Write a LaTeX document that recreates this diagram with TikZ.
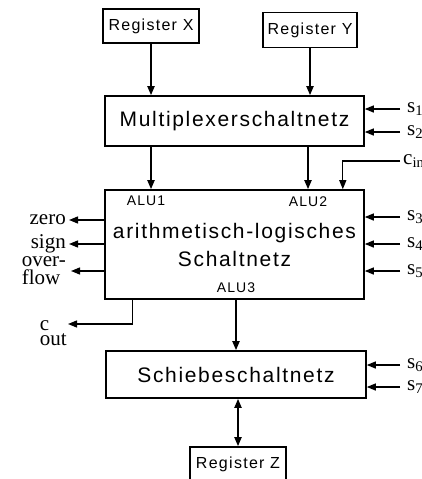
\documentclass[tikz,border=0pt]{standalone}
\usepackage{fontspec}
\usetikzlibrary{arrows.meta}
\setmainfont{Liberation Serif}
\newfontfamily\unitfont[LetterSpace=8]{Liberation Sans}
\newcommand{\unitsize}[2]{\unitfont\fontsize{#1}{#2}\selectfont}

\begin{document}
\begin{tikzpicture}[
  x=1pt, y=-1pt,
  >={Triangle[length=9pt, width=7pt]},
  unit/.style={
    draw=black, line width=1.6pt,
    inner sep=0pt, align=center,
    font=\unitsize{21}{28}
  },
  reg/.style={unit, font=\unitsize{16}{18}},
  port/.style={inner sep=0pt, font=\unitsize{14}{16}},
  bus/.style={->, line width=1.8pt},
  ctl/.style={->, line width=1.3pt},
  sig/.style={inner sep=0pt, font=\fontsize{21}{18}\selectfont},
]
  \useasboundingbox (0,0) rectangle (421,479);
  \clip (0,0) rectangle (421,479);

  \node[reg, minimum width=96pt, minimum height=34pt] (regX) at (151, 26) {Register X};
  \node[reg, minimum width=94pt, minimum height=35pt] (regY) at (310, 30) {Register Y};
  \node[unit, minimum width=259pt, minimum height=50pt] (mux) at (234.5, 121) {Multiplexerschaltnetz};
  \node[unit, minimum width=259pt, minimum height=109pt] (alu) at (234.5, 244.5)
    {arithmetisch-logisches\\Schaltnetz};
  \node[unit, minimum width=260pt, minimum height=47pt] (shift) at (236, 374.5) {Schiebeschaltnetz};
  \node[reg, minimum width=96pt, minimum height=34pt] (regZ) at (238, 464) {Register Z};

  \node[port] (alu1) at (146, 201) {ALU1};
  \node[port] (alu2) at (308, 202) {ALU2};
  \node[port] (alu3) at (236, 288) {ALU3};

  \draw[bus] (regX) -- (regX |- mux.north);
  \draw[bus] (regY) -- (regY |- mux.north);
  \draw[bus] (regX |- mux.south) -- (regX |- alu.north);
  \draw[bus] (alu2 |- mux.south) -- (alu2 |- alu.north);
  \draw[bus] (alu3 |- alu.south) -- (alu3 |- shift.north);
  \draw[bus, <->] (shift.south -| regZ) -- (regZ);

  % control inputs on the right
  \node[sig, anchor=west] (s1) at (407, 109) {s\textsubscript{1}};
  \node[sig, anchor=west] (s2) at (407, 132) {s\textsubscript{2}};
  \node[sig, anchor=west] (cin) at (403, 161) {c\textsubscript{in}};
  \node[sig, anchor=west] (s3) at (407, 217) {s\textsubscript{3}};
  \node[sig, anchor=west] (s4) at (407, 244) {s\textsubscript{4}};
  \node[sig, anchor=west] (s5) at (407, 271) {s\textsubscript{5}};
  \node[sig, anchor=west] (s6) at (407, 365) {s\textsubscript{6}};
  \node[sig, anchor=west] (s7) at (407, 387) {s\textsubscript{7}};

  \draw[ctl] ([xshift=-7pt]s1.west) -- (s1.west -| mux.east);
  \draw[ctl] ([xshift=-7pt]s2.west) -- (s2.west -| mux.east);
  \draw[ctl] ([xshift=-3pt]cin.west) -| ([xshift=-22pt]alu.north east);
  \draw[ctl] ([xshift=-7pt]s3.west) -- (s3.west -| alu.east);
  \draw[ctl] ([xshift=-7pt]s4.west) -- (s4.west -| alu.east);
  \draw[ctl] ([xshift=-7pt]s5.west) -- (s5.west -| alu.east);
  \draw[ctl] ([xshift=-7pt]s6.west) -- (s6.west -| shift.east);
  \draw[ctl] ([xshift=-7pt]s7.west) -- (s7.west -| shift.east);

  % status outputs on the left
  \node[sig, anchor=east] (zero) at (66, 220) {zero};
  \node[sig, anchor=east] (sign) at (66, 244) {sign};
  \node[sig, anchor=east, align=left] (ovfl) at (66, 271) {over-\\flow};
  \node[sig, anchor=north east, align=left, font=\fontsize{21}{15}\selectfont] (cout) at (67, 320) {c\\out};

  \draw[ctl] (alu.west |- zero) -- ([xshift=3pt]zero.east);
  \draw[ctl] (alu.west |- sign) -- ([xshift=3pt]sign.east);
  \draw[ctl] (alu.west |- ovfl) -- ([xshift=5pt]ovfl.east);
  \draw[ctl] ([xshift=-102pt]alu.south) |- ([xshift=1pt, yshift=-4pt]cout.north east);
\end{tikzpicture}
\end{document}
